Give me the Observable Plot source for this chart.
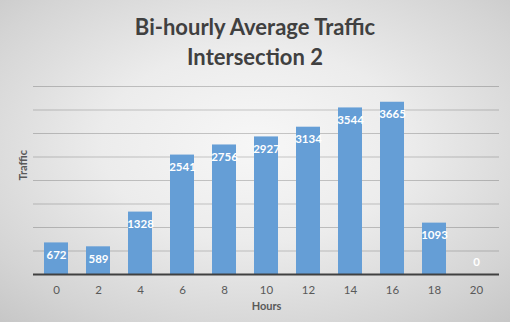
<!DOCTYPE html>
<html>
<head>
<meta charset="utf-8">
<script src="https://cdn.jsdelivr.net/npm/d3@7"></script>
<script src="https://cdn.jsdelivr.net/npm/@observablehq/plot@0.6"></script>
<style>
  html, body { margin: 0; padding: 0; }
  #wrap {
    position: relative; width: 510px; height: 322px; overflow: hidden;
    background: radial-gradient(ellipse 75% 75% at 50% 45%, #f7f7f7 0%, #ececec 40%, #d4d4d4 80%, #c6c6c6 100%);
    font-family: Lato, sans-serif;
  }
  #title {
    position: absolute; left: 0; top: 12px; width: 510px; text-align: center;
    font-weight: bold; font-size: 22px; line-height: 30px; color: #404040;
  }
  #chart { position: absolute; left: 0; top: 0; }
  #chart svg { background: transparent; }
</style>
</head>
<body>
<div id="wrap">
  <div id="chart"></div>
  <div id="title">Bi-hourly Average Traffic<br>Intersection 2</div>
</div>
<script>
const hours = ["0", "2", "4", "6", "8", "10", "12", "14", "16", "18", "20"];
const traffic = [672, 589, 1328, 2541, 2756, 2927, 3134, 3544, 3665, 1093, 0];
const yGrid = [500, 1000, 1500, 2000, 2500, 3000, 3500, 4000];
const xTitle = "Hours";
const yTitle = "Traffic";

const data = hours.map((h, i) => ({hour: h, value: traffic[i]}));

const chart = Plot.plot({
  width: 510,
  height: 322,
  marginTop: 86,
  marginBottom: 48,
  marginLeft: 33,
  marginRight: 11,
  style: {background: "transparent", fontFamily: "Lato, sans-serif"},
  x: {domain: hours, paddingInner: 0.43, paddingOuter: 0.215},
  y: {domain: [0, 4000], axis: null},
  marks: [
    Plot.gridY(yGrid, {stroke: "#000", strokeOpacity: 0.2, strokeWidth: 1}),
    Plot.barY(data, {x: "hour", y: "value", fill: "#659ed6"}),
    Plot.ruleY([0], {stroke: "#404040", strokeWidth: 2.2}),
    Plot.axisX({tickSize: 0, tickPadding: 11, fontSize: 11.5, color: "#595959", label: null}),
    Plot.text(data.filter(d => d.value > 0), {x: "hour", y: "value", text: d => String(d.value), dy: 12.5, fill: "white", fontWeight: "bold", fontSize: 11.5}),
    Plot.text(data.filter(d => d.value === 0), {x: "hour", y: "value", text: d => String(d.value), dy: -12.5, fill: "white", fontWeight: "bold", fontSize: 11.5}),
    Plot.text([xTitle], {frameAnchor: "bottom", dy: 35, fill: "#595959", fontWeight: "bold", fontSize: 11}),
    Plot.text([yTitle], {frameAnchor: "left", dx: -10, rotate: -90, fill: "#595959", fontWeight: "bold", fontSize: 11})
  ]
});
document.getElementById("chart").appendChild(chart);
</script>
</body>
</html>
